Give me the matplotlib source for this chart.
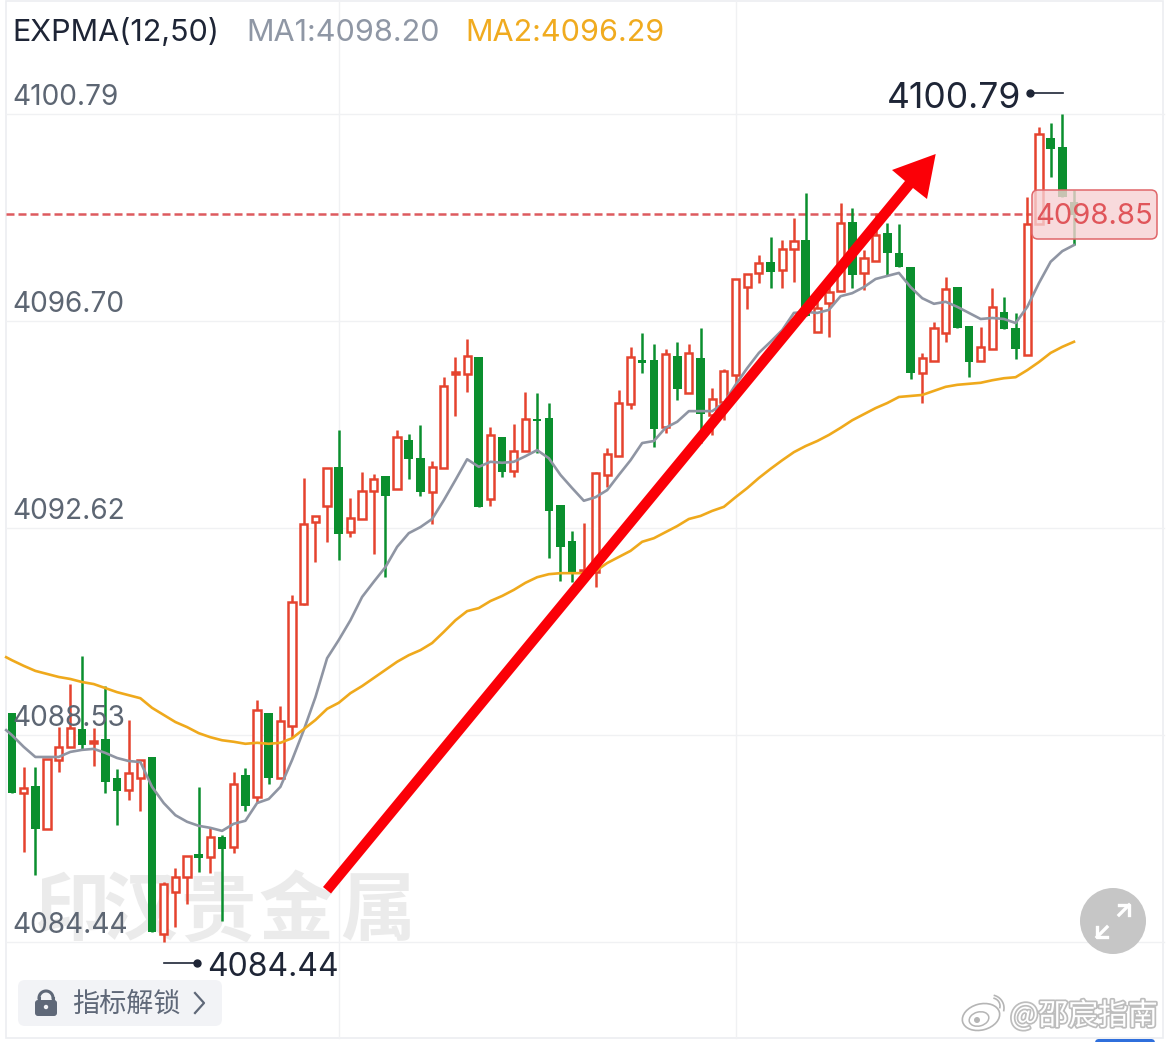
import numpy as np
import matplotlib
matplotlib.use("Agg")
import matplotlib.pyplot as plt
import matplotlib.patheffects as pe
from matplotlib.patches import Circle, Ellipse, FancyBboxPatch, Polygon, Rectangle

highs = [4088.96, 4087.89, 4087.89, 4088.05, 4088.68, 4089.53, 4090.08, 4088.66, 4089.49, 4087.85,
         4088.82, 4088.03, 4088.09, 4085.62, 4085.90, 4086.13, 4087.50, 4086.71, 4086.55, 4087.79,
         4087.87, 4089.21, 4088.96, 4089.10, 4091.29, 4093.60, 4092.85, 4093.80, 4094.55, 4093.20,
         4093.72, 4093.68, 4093.64, 4094.55, 4094.47, 4094.65, 4093.94, 4095.59, 4095.99, 4096.34,
         4095.99, 4094.61, 4094.41, 4094.67, 4095.30, 4095.28, 4095.08, 4093.07, 4092.55, 4092.71,
         4093.72, 4094.19, 4095.34, 4096.19, 4096.46, 4096.25, 4096.15, 4096.29, 4096.25, 4096.56,
         4095.38, 4095.75, 4097.53, 4097.63, 4098.00, 4098.36, 4098.30, 4098.73, 4099.23, 4097.11,
         4097.45, 4099.03, 4098.93, 4098.10, 4098.83, 4098.64, 4098.62, 4097.77, 4096.07, 4096.68,
         4097.57, 4097.37, 4096.60, 4096.58, 4097.35, 4097.17, 4096.86, 4099.15, 4100.53, 4100.61,
         4100.79, 4099.29]
lows = [4087.38, 4086.21, 4085.76, 4086.67, 4087.79, 4088.29, 4088.25, 4087.91, 4087.38, 4086.75,
        4087.24, 4087.02, 4084.63, 4084.44, 4084.73, 4085.19, 4085.82, 4085.80, 4084.85, 4086.19,
        4087.02, 4087.18, 4087.56, 4087.67, 4088.48, 4091.09, 4091.94, 4092.34, 4091.98, 4092.43,
        4092.79, 4092.10, 4091.64, 4093.38, 4093.58, 4093.24, 4092.69, 4093.80, 4094.82, 4095.30,
        4093.03, 4093.05, 4093.62, 4093.62, 4094.13, 4094.09, 4092.02, 4091.57, 4091.55, 4091.68,
        4091.45, 4093.42, 4094.03, 4094.96, 4095.67, 4094.21, 4094.49, 4095.14, 4095.28, 4094.29,
        4094.45, 4094.74, 4095.24, 4096.94, 4097.45, 4097.35, 4097.35, 4097.47, 4096.80, 4096.48,
        4096.38, 4097.29, 4097.35, 4097.31, 4097.89, 4097.61, 4097.77, 4095.55, 4095.08, 4095.91,
        4096.29, 4096.56, 4095.59, 4095.91, 4096.15, 4096.54, 4095.95, 4096.03, 4098.62, 4099.54,
        4099.15, 4098.20]
opens = [4088.96, 4087.38, 4087.52, 4086.67, 4088.03, 4088.29, 4088.64, 4088.37, 4088.44, 4087.67,
         4087.44, 4087.67, 4088.09, 4084.59, 4085.42, 4085.72, 4086.17, 4086.11, 4086.51, 4086.31,
         4087.73, 4087.30, 4088.96, 4087.67, 4088.70, 4091.11, 4092.73, 4093.05, 4093.82, 4092.53,
         4092.79, 4093.34, 4093.64, 4093.38, 4094.35, 4093.99, 4093.32, 4093.80, 4095.65, 4095.65,
         4095.99, 4093.18, 4094.41, 4093.74, 4094.13, 4094.76, 4094.78, 4093.07, 4092.36, 4091.74,
         4091.74, 4093.66, 4094.03, 4095.06, 4095.93, 4095.93, 4094.61, 4096.01, 4095.28, 4095.97,
         4094.84, 4095.10, 4095.63, 4097.37, 4097.65, 4097.87, 4097.71, 4098.12, 4098.30, 4096.48,
         4097.06, 4097.29, 4098.66, 4097.65, 4097.89, 4098.44, 4098.04, 4097.77, 4095.67, 4095.91,
         4096.46, 4097.37, 4096.60, 4095.91, 4096.15, 4096.88, 4096.56, 4096.03, 4098.62, 4100.31,
         4100.14, 4099.05]
closes = [4087.38, 4087.48, 4086.67, 4088.05, 4088.29, 4088.66, 4088.33, 4088.41, 4087.60, 4087.42,
          4087.77, 4088.03, 4084.63, 4085.58, 4085.72, 4086.13, 4086.09, 4086.51, 4086.27, 4087.56,
          4087.12, 4089.02, 4087.67, 4088.80, 4091.15, 4092.69, 4092.85, 4093.80, 4092.49, 4092.81,
          4093.34, 4093.58, 4093.24, 4094.41, 4093.97, 4093.32, 4093.82, 4095.42, 4095.69, 4096.01,
          4093.03, 4094.45, 4093.72, 4094.13, 4094.76, 4094.73, 4092.95, 4092.24, 4091.74, 4091.78,
          4093.70, 4094.07, 4095.08, 4095.99, 4095.87, 4094.57, 4096.05, 4095.36, 4096.07, 4094.86,
          4095.16, 4095.71, 4097.53, 4097.63, 4097.85, 4097.67, 4098.12, 4098.28, 4096.80, 4096.96,
          4097.27, 4098.64, 4097.61, 4097.94, 4098.40, 4098.04, 4097.77, 4095.67, 4095.97, 4096.56,
          4097.33, 4096.56, 4095.89, 4096.19, 4096.98, 4096.54, 4096.15, 4098.62, 4100.39, 4100.10,
          4099.15, 4098.79]
ma1 = [4088.62, 4088.52, 4088.29, 4088.09, 4088.09, 4088.09, 4088.19, 4088.23, 4088.25, 4088.17,
       4088.07, 4088.01, 4087.99, 4087.50, 4087.18, 4086.94, 4086.81, 4086.73, 4086.69, 4086.63,
       4086.77, 4086.83, 4087.18, 4087.26, 4087.50, 4088.03, 4088.62, 4089.27, 4090.04, 4090.40,
       4090.79, 4091.25, 4091.55, 4091.84, 4092.24, 4092.51, 4092.63, 4092.79, 4093.16, 4093.56,
       4093.97, 4093.82, 4093.92, 4093.90, 4093.92, 4094.03, 4094.15, 4093.99, 4093.66, 4093.40,
       4093.15, 4093.22, 4093.36, 4093.66, 4093.95, 4094.29, 4094.33, 4094.59, 4094.71, 4094.92,
       4094.92, 4094.92, 4095.08, 4095.44, 4095.77, 4096.07, 4096.29, 4096.52, 4096.86, 4096.88,
       4096.86, 4096.92, 4097.19, 4097.25, 4097.37, 4097.53, 4097.59, 4097.65, 4097.37, 4097.15,
       4097.04, 4097.08, 4096.98, 4096.86, 4096.74, 4096.76, 4096.74, 4096.66, 4096.98, 4097.45,
       4097.87, 4098.08, 4098.20]
ma2 = [4090.06, 4090.00, 4089.89, 4089.79, 4089.73, 4089.67, 4089.63, 4089.57, 4089.53, 4089.45,
       4089.37, 4089.31, 4089.25, 4089.06, 4088.92, 4088.78, 4088.68, 4088.56, 4088.48, 4088.42,
       4088.39, 4088.35, 4088.37, 4088.35, 4088.37, 4088.46, 4088.64, 4088.82, 4089.04, 4089.16,
       4089.35, 4089.49, 4089.65, 4089.81, 4089.97, 4090.10, 4090.20, 4090.34, 4090.56, 4090.79,
       4090.97, 4091.03, 4091.17, 4091.27, 4091.39, 4091.53, 4091.64, 4091.70, 4091.72, 4091.72,
       4091.72, 4091.76, 4091.92, 4092.04, 4092.16, 4092.34, 4092.41, 4092.53, 4092.65, 4092.79,
       4092.85, 4092.95, 4093.03, 4093.22, 4093.40, 4093.60, 4093.78, 4093.95, 4094.11, 4094.23,
       4094.33, 4094.45, 4094.59, 4094.74, 4094.86, 4094.98, 4095.08, 4095.20, 4095.22, 4095.24,
       4095.32, 4095.40, 4095.44, 4095.46, 4095.48, 4095.53, 4095.57, 4095.59, 4095.73, 4095.89,
       4096.07, 4096.19, 4096.29]
y_levels = [4100.79, 4096.70, 4092.62, 4088.53, 4084.44]
last_price = 4098.85
last_line = 4098.81
indicator = "EXPMA(12,50)"
ma1_label = "MA1:4098.20"
ma2_label = "MA2:4096.29"

RED = "#e5432e"
GREEN = "#0a8f2e"
GRID = "#f0f1f3"
DARK = "#1e2536"
LABEL = "#5d6673"
LATIN = ["Inter", "DejaVu Sans"]
CJK = ["Noto Sans CJK SC", "DejaVu Sans"]
W, H = 1170, 1042
STEP = 11.67
PX_PER_PRICE = 1 / 0.01975
TOP_PRICE = 4103.04

fig = plt.figure(figsize=(W / 100, H / 100), dpi=100, facecolor="white")


def layer(z):
    a = fig.add_axes([0, 0, 1, 1], zorder=z)
    a.patch.set_alpha(0)
    a.axis("off")
    return a


bg = layer(0)
bg.set_xlim(0, W)
bg.set_ylim(H, 0)
ax = layer(1)
ax.set_xlim(-12 / STEP, (W - 12) / STEP)
ax.set_ylim(TOP_PRICE - H / PX_PER_PRICE, TOP_PRICE)
top = layer(2)
top.set_xlim(0, W)
top.set_ylim(H, 0)

# frame and grid
bg.add_patch(Rectangle((6, 1), 1157, 1037, fill=False, ec="#eceef1", lw=1.2))
for vx in [339, 736]:
    bg.plot([vx, vx], [1, 1038], color=GRID, lw=1)
bg.add_patch(FancyBboxPatch((1095, 1039), 60, 10, boxstyle="round,pad=0,rounding_size=4",
                            fc="#2f6fdc", ec="none"))

# watermark
for cx, ch in zip([72, 140, 218, 296, 378], "印汉贵金属"):
    bg.text(cx, 912, ch, fontsize=54, family=CJK, weight="bold", color="#ebebeb",
            ha="center", va="center")

for level in y_levels:
    ax.plot([-0.5, 98.7], [level, level], color=GRID, lw=1, zorder=0.5)
ax.plot([-0.5, 87.4], [last_line, last_line], color="#dd5a5f", lw=1.8, dashes=(3.2, 1.6),
        dash_capstyle="butt", zorder=0.8)

# candles
x = np.arange(len(opens))
o = np.array(opens)
c = np.array(closes)
up = c >= o
ax.vlines(x[up], np.array(lows)[up], np.array(highs)[up], color=RED, lw=1.8, zorder=2)
ax.vlines(x[~up], np.array(lows)[~up], np.array(highs)[~up], color=GREEN, lw=1.8, zorder=2)
ax.bar(x[up], (c - o)[up], bottom=o[up], width=0.62, fc="white", ec=RED, lw=1.8, zorder=3)
ax.bar(x[~up], (c - o)[~up], bottom=o[~up], width=0.74, fc=GREEN, ec="none", zorder=3)

# moving averages start a little left of the first candle
ma_x = np.r_[-0.5, x]
ax.plot(ma_x, ma1, color="#8f95a3", lw=1.9, zorder=4, solid_joinstyle="round")
ax.plot(ma_x, ma2, color="#efa91c", lw=1.9, zorder=4, solid_joinstyle="round")

# red hand-drawn arrow
top.add_patch(Polygon([(323, 887), (331, 893.5), (913, 188), (927, 199), (935.7, 154), (892, 170), (905, 181)],
                      closed=True, fc="#fb0007", ec="none"))

# header
top.text(12, 33, indicator, fontsize=22, family=LATIN, color=DARK, va="center")
top.text(246, 33, ma1_label, fontsize=22, family=LATIN, color="#8f97a5", va="center")
top.text(465, 33, ma2_label, fontsize=22, family=LATIN, color="#f0ab1f", va="center")

# axis labels sit above their grid line
for level in y_levels:
    ax.annotate(f"{level:.2f}", xy=(0, level), xycoords=("figure pixels", "data"), xytext=(12, 3),
                textcoords="offset pixels", fontsize=20.2, family=LATIN, color=LABEL, va="bottom",
                zorder=6)

# high and low markers
high_i = int(np.argmax(highs))
low_i = int(np.argmin(lows))
top.plot([1030, 1063], [93, 93], color=DARK, lw=1.2)
top.plot([1030], [93], "o", color=DARK, ms=5)
top.text(1021, 98, f"{highs[high_i]:.2f}", fontsize=25.5, family=LATIN, color=DARK, ha="right", va="center")
top.plot([164, 197], [963, 963], color=DARK, lw=1.2)
top.plot([197], [963], "o", color=DARK, ms=5)
top.text(207, 967, f"{lows[low_i]:.2f}", fontsize=23, family=LATIN, color=DARK, ha="left", va="center")

# last price tag
top.add_patch(FancyBboxPatch((1032, 190), 125, 49, boxstyle="round,pad=0,rounding_size=6",
                             fc=(0.97, 0.82, 0.83, 0.8), ec="#e0666a", lw=1.1))
top.text(1094.5, 217, f"{last_price:.2f}", fontsize=21, family=LATIN, color="#e0555a", ha="center", va="center")

# unlock button
top.add_patch(FancyBboxPatch((18, 980), 204, 46, boxstyle="round,pad=0,rounding_size=7",
                             fc="#f2f3f6", ec="none"))
top.add_patch(FancyBboxPatch((35, 1000), 22, 16, boxstyle="round,pad=0,rounding_size=3",
                             fc="#5f6878", ec="none"))
theta = np.linspace(np.pi, 2 * np.pi, 30)
top.plot(46 + 7 * np.cos(theta), 998 + 7 * np.sin(theta), color="#5f6878", lw=2.2)
top.plot([39, 39], [998, 1000], color="#5f6878", lw=2.2)
top.plot([53, 53], [998, 1000], color="#5f6878", lw=2.2)
top.add_patch(Circle((46, 1007), 2.2, fc="#f2f3f6", ec="none"))
top.text(126, 1004, "指标解锁", fontsize=19.5, family=CJK, color="#5f6878", ha="center", va="center")
top.plot([195, 204, 195], [993, 1003, 1013], color="#5f6878", lw=1.6)

# expand button
top.add_patch(Circle((1113, 921), 33, fc="#c6c6c6", ec="none"))
for x0, y0, x1, y1, hx, hy in [(1119, 915, 1129, 905, -1, 1), (1107, 927, 1097, 937, 1, -1)]:
    top.plot([x0, x1], [y0, y1], color="white", lw=2.4)
    top.plot([x1 + hx * 10, x1, x1], [y1, y1, y1 + hy * 10], color="white", lw=2.4)

# site mark
stroke = [pe.withStroke(linewidth=2.5, foreground="#bdbdbd")]
top.text(1084, 1016, "@邵宸指南", fontsize=21.5, family=CJK, color="white", ha="center", va="center",
         path_effects=stroke)
top.add_patch(Ellipse((981, 1017), 38, 26, angle=-15, fc="white", ec="#b5b5b5", lw=1.2))
top.add_patch(Ellipse((979, 1019), 20, 14, angle=-15, fc="white", ec="#b5b5b5", lw=1.1))
top.add_patch(Circle((977, 1020), 3, fc="#b5b5b5", ec="none"))
theta = np.linspace(-1.3, 0.2, 20)
top.plot(992 + 8 * np.cos(theta), 1006 + 8 * np.sin(theta), color="#b5b5b5", lw=1.2)
top.plot(991 + 13 * np.cos(theta), 1008 + 13 * np.sin(theta), color="#b5b5b5", lw=1.2)

fig.savefig("out.png", dpi=100, facecolor="white")
